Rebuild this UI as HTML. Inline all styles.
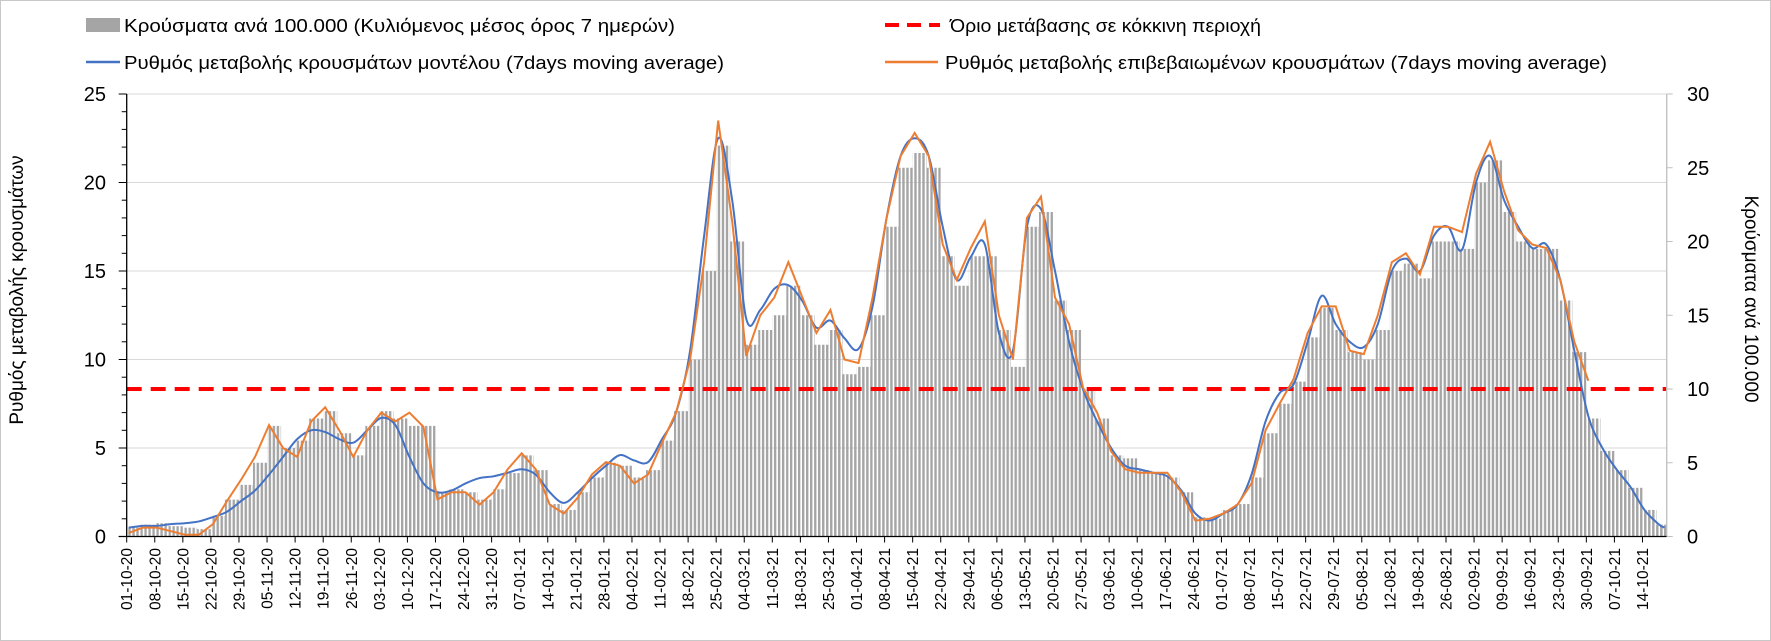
<!DOCTYPE html>
<html><head><meta charset="utf-8"><style>
html,body{margin:0;padding:0;background:#fff}
svg{display:block;font-family:"Liberation Sans",Arial,sans-serif}
</style></head><body>
<svg id="chart" width="1771" height="641" viewBox="0 0 1771 641" xmlns="http://www.w3.org/2000/svg">
<defs>
<pattern id="stripes" patternUnits="userSpaceOnUse" width="4.01" height="10">
<rect x="0" y="0" width="2.4" height="10" fill="#a5a5a5"/>
</pattern>
</defs>
<rect x="0.5" y="0.5" width="1770" height="640" fill="#fff" stroke="#c8c8c8"/>
<g id="grid"></g>
<g id="bars"></g>
<line id="thr" stroke="#ff0000" stroke-width="4" stroke-dasharray="15,9"/>
<path id="blueLine" fill="none" stroke="#4472c4" stroke-width="2"/>
<path id="orangeLine" fill="none" stroke="#ed7d31" stroke-width="2"/>
<g id="axes"></g>
<g>
<rect x="86" y="18" width="34" height="14" fill="#a5a5a5"/>
<text x="124" y="32" font-size="18" textLength="551" lengthAdjust="spacingAndGlyphs">Κρούσματα ανά 100.000 (Κυλιόμενος μέσος όρος 7 ημερών)</text>
<line x1="86" y1="62" x2="120" y2="62" stroke="#4472c4" stroke-width="2.5"/>
<text x="124" y="69" font-size="18" textLength="600" lengthAdjust="spacingAndGlyphs">Ρυθμός μεταβολής κρουσμάτων μοντέλου (7days moving average)</text>
<line x1="885" y1="25" x2="940" y2="25" stroke="#ff0000" stroke-width="4" stroke-dasharray="14,8"/>
<text x="950" y="32" font-size="18" textLength="311" lengthAdjust="spacingAndGlyphs">Όριο μετάβασης σε κόκκινη περιοχή</text>
<line x1="885" y1="62" x2="938" y2="62" stroke="#ed7d31" stroke-width="2.5"/>
<text x="945" y="69" font-size="18" textLength="662" lengthAdjust="spacingAndGlyphs">Ρυθμός μεταβολής επιβεβαιωμένων κρουσμάτων (7days moving average)</text>
</g>
<text transform="translate(23,290) rotate(-90)" text-anchor="middle" font-size="19">Ρυθμός μεταβολής κρουσμάτων</text>
<text transform="translate(1745,299) rotate(90)" text-anchor="middle" font-size="19">Κρούσματα ανά 100.000</text>
</svg>
<script>
const days = [0,3.5,7,10.5,14,17.5,21,24.5,28,31.5,35,38.5,42,45.5,49,52.5,56,59.5,63,66.5,70,73.5,77,80.5,84,87.5,91,94.5,98,101.5,105,108.5,112,115.5,119,122.5,126,129.5,133,136.5,140,143.5,147,150.5,154,157.5,161,164.5,168,171.5,175,178.5,182,185.5,189,192.5,196,199.5,203,206.5,210,213.5,217,220.5,224,227.5,231,234.5,238,241.5,245,248.5,252,255.5,259,262.5,266,269.5,273,276.5,280,283.5,287,290.5,294,297.5,301,304.5,308,311.5,315,318.5,322,325.5,329,332.5,336,339.5,343,346.5,350,353.5,357,360.5,364,367.5,371,374.5,378,381.5,383];
const blueVals = [0.5,0.6,0.6,0.7,0.75,0.85,1.1,1.4,2.0,2.6,3.5,4.5,5.5,6.0,5.9,5.5,5.3,6.0,6.7,6.3,4.5,3.0,2.5,2.6,3.0,3.3,3.4,3.6,3.8,3.5,2.5,1.9,2.5,3.3,4.0,4.6,4.3,4.2,5.5,7.0,10.5,17,22.5,19,12.3,12.8,14.0,14.2,13.3,11.8,12.2,11.2,10.6,13,18,21.5,22.5,21.5,17.5,14.5,15.8,16.5,11.5,10.5,17.5,18.5,15,11,8.3,6.5,5,4.0,3.8,3.6,3.4,2.6,1.3,0.9,1.3,1.8,3.5,6.5,8.1,8.6,11,13.6,12.0,11.0,10.7,12.0,15.0,15.7,15.0,17.0,17.5,16.2,20,21.5,19,17.5,16.3,16.5,14.5,10.5,6.8,5.0,3.8,2.8,1.5,0.7,0.5];
const orangeVals = [0.2,0.5,0.5,0.3,0.1,0.1,0.7,2.0,3.2,4.5,6.3,5.0,4.5,6.5,7.3,6.0,4.5,6.0,7.0,6.5,7.0,6.2,2.1,2.5,2.5,1.8,2.5,3.8,4.7,3.8,1.8,1.3,2.2,3.5,4.2,4.0,3.0,3.5,5.3,7.0,10.0,15.5,23.5,17.8,10.2,12.5,13.5,15.5,13.5,11.5,12.8,10.0,9.8,13.5,18,21.5,22.8,21.5,16.5,14.5,16.3,17.8,12.5,10.0,18.0,19.2,13.5,12,8.4,7.0,4.8,3.8,3.6,3.6,3.6,2.5,0.9,1.0,1.3,1.8,3.0,6.0,7.5,8.9,11.5,13.0,13.0,10.5,10.3,12.5,15.5,16.0,14.8,17.5,17.5,17.2,20.5,22.3,19.5,17.3,16.5,16.3,14.5,11.0,8.8,null,null,null,null,null,null];
const caseVals = [0.6,0.8,0.9,0.7,0.6,0.5,1.4,2.5,3.5,5,7.5,6,6.5,8,8.5,7,5.5,7.5,8.5,8,7.5,7.5,3,3.2,3,2.5,3.2,4.3,5.5,4.5,2.2,1.8,3,4,5,4.8,4,4.5,6.5,8.5,12,18,26.5,20,13,14,15,17,15,13,14,11,11.5,15,21,25,26,25,19,17,19,19,14,11.5,21,22,16,14,10,8,5.5,5.3,4.5,4.3,4,3,1.3,1.2,1.8,2.2,4,7,9,10.5,13.5,15.5,14,12.5,12,14,18,18.5,17.5,20,20,19.5,24,25.5,22,20,19.5,19.5,16,12.5,8,5.8,4.5,3.3,1.8,0.8,0.6];
const threshold = 10;
const weekLabels = ["01-10-20","08-10-20","15-10-20","22-10-20","29-10-20","05-11-20","12-11-20","19-11-20","26-11-20","03-12-20","10-12-20","17-12-20","24-12-20","31-12-20","07-01-21","14-01-21","21-01-21","28-01-21","04-02-21","11-02-21","18-02-21","25-02-21","04-03-21","11-03-21","18-03-21","25-03-21","01-04-21","08-04-21","15-04-21","22-04-21","29-04-21","06-05-21","13-05-21","20-05-21","27-05-21","03-06-21","10-06-21","17-06-21","24-06-21","01-07-21","08-07-21","15-07-21","22-07-21","29-07-21","05-08-21","12-08-21","19-08-21","26-08-21","02-09-21","09-09-21","16-09-21","23-09-21","30-09-21","07-10-21","14-10-21"];
const leftTicks = [0,5,10,15,20,25];
const rightTicks = [0,5,10,15,20,25,30];

const NS="http://www.w3.org/2000/svg";
const X0=126.7, PXD=4.01, XEND=1666.7, Y0=536.5;
const xDay=d=>X0+(d+0.5)*PXD;
const yL=v=>Y0-v*(442.5/25);
const yR=v=>Y0-v*(442.5/30);
function mk(tag,attrs,parent){const e=document.createElementNS(NS,tag);for(const k in attrs)e.setAttribute(k,attrs[k]);parent.appendChild(e);return e;}

const grid=document.getElementById('grid');
leftTicks.forEach(t=>{if(t===0)return;const l=mk('line',{x1:X0,x2:XEND,y1:yL(t),y2:yL(t),stroke:'#d9d9d9','stroke-width':1},grid);

});

const bars=document.getElementById('bars');
days.forEach((d,i)=>{const v=caseVals[i];if(v==null)return;
const x=X0+d*PXD; const w=Math.min(3.5*PXD, XEND-x);
const r=mk('rect',{x:x,y:yR(v),width:w,height:Y0-yR(v),fill:'url(#stripes)'},bars);

});

const thr=document.getElementById('thr');
thr.setAttribute('x1',X0);thr.setAttribute('x2',XEND);thr.setAttribute('y1',yR(threshold));thr.setAttribute('y2',yR(threshold));

function smooth(pts){if(!pts.length)return'';let d=`M${pts[0][0]},${pts[0][1]}`;
for(let i=0;i<pts.length-1;i++){const p0=pts[i-1]||pts[i],p1=pts[i],p2=pts[i+1],p3=pts[i+2]||p2;
const c1=[p1[0]+(p2[0]-p0[0])/6,p1[1]+(p2[1]-p0[1])/6],c2=[p2[0]-(p3[0]-p1[0])/6,p2[1]-(p3[1]-p1[1])/6];
d+=` C${c1[0]},${c1[1]} ${c2[0]},${c2[1]} ${p2[0]},${p2[1]}`;}return d;}
const bp=days.map((d,i)=>[xDay(d),yL(blueVals[i])]);
document.getElementById('blueLine').setAttribute('d',smooth(bp));
const op=[];days.forEach((d,i)=>{if(orangeVals[i]!=null)op.push([xDay(d),yL(orangeVals[i])]);});
document.getElementById('orangeLine').setAttribute('d','M'+op.map(p=>p.join(',')).join(' L'));

const ax=document.getElementById('axes');
let e;
e=mk('line',{x1:X0,x2:X0,y1:94,y2:Y0,stroke:'#000','stroke-width':1.3},ax);


e=mk('line',{x1:XEND,x2:XEND,y1:94,y2:Y0,stroke:'#bfbfbf','stroke-width':1.3},ax);


e=mk('line',{x1:X0-8,x2:XEND,y1:Y0,y2:Y0,stroke:'#000','stroke-width':1.3},ax);


for(let v=0;v<=25;v++){mk('line',{x1:X0-(v%5===0?8:5),x2:X0,y1:yL(v),y2:yL(v),stroke:'#000','stroke-width':1},ax);}
leftTicks.forEach(t=>{const tx=mk('text',{x:106,y:yL(t)+7,'text-anchor':'end','font-size':20},ax);tx.textContent=t;

});
rightTicks.forEach(t=>{mk('line',{x1:XEND,x2:XEND+6,y1:yR(t),y2:yR(t),stroke:'#bfbfbf','stroke-width':1},ax);
const tx=mk('text',{x:1687,y:yR(t)+7,'font-size':20},ax);tx.textContent=t;

});
weekLabels.forEach((lab,i)=>{const x=X0+i*7*PXD;
mk('line',{x1:x,x2:x,y1:Y0,y2:Y0+6,stroke:'#000','stroke-width':1},ax);
const tx=mk('text',{transform:`translate(${x+5.5},548) rotate(-90)`,'text-anchor':'end','font-size':15.5},ax);tx.textContent=lab;

});
</script>
</body></html>
